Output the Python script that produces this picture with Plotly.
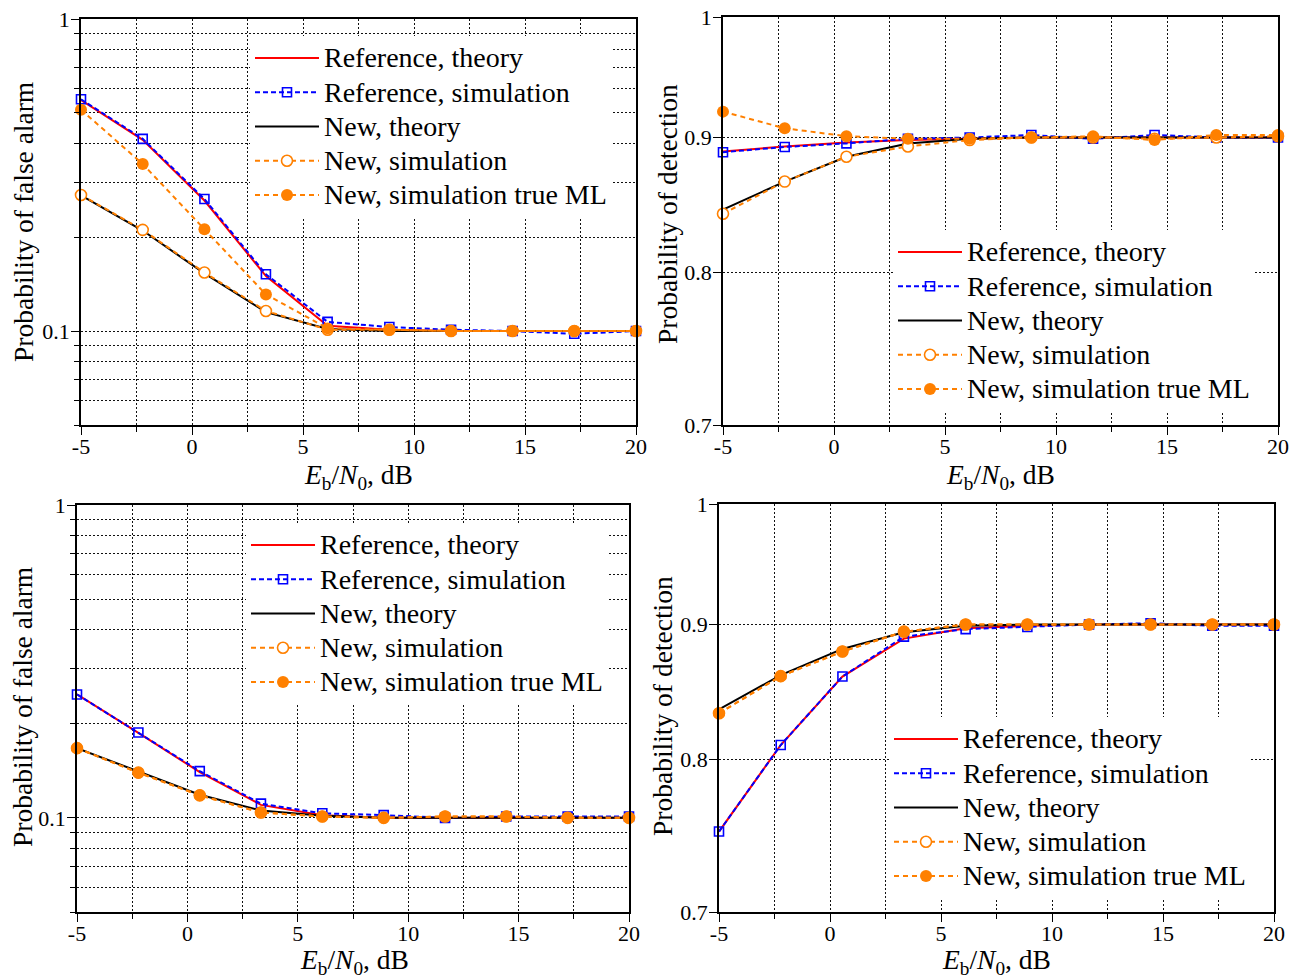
import plotly.graph_objects as go
import math

# ---------------- data ----------------
ebn0 = [-5, -2.22, 0.56, 3.33, 6.11, 8.89, 11.67, 14.44, 17.22, 20]

legend_names = ["Reference, theory", "Reference, simulation", "New, theory",
                "New, simulation", "New, simulation true ML"]

# top-left: probability of false alarm
pfa1_ref_theory = [0.55, 0.41, 0.262, 0.150, 0.104, 0.101, 0.100, 0.100, 0.100, 0.100]
pfa1_ref_sim    = [0.553, 0.413, 0.265, 0.152, 0.107, 0.103, 0.101, 0.100, 0.098, 0.100]
pfa1_new_theory = [0.272, 0.210, 0.153, 0.115, 0.1015, 0.100, 0.100, 0.100, 0.100, 0.100]
pfa1_new_sim    = [0.273, 0.211, 0.154, 0.116, 0.101, 0.101, 0.100, 0.100, 0.100, 0.100]
pfa1_new_ml     = [0.512, 0.343, 0.212, 0.131, 0.102, 0.101, 0.100, 0.100, 0.100, 0.100]

# top-right: probability of detection
pd1_ref_theory = [0.889, 0.893, 0.896, 0.898, 0.899, 0.900, 0.900, 0.900, 0.900, 0.900]
pd1_ref_sim    = [0.8885, 0.8926, 0.8954, 0.899, 0.900, 0.902, 0.899, 0.902, 0.900, 0.900]
pd1_new_theory = [0.845, 0.866, 0.885, 0.8953, 0.899, 0.900, 0.900, 0.900, 0.900, 0.900]
pd1_new_sim    = [0.842, 0.866, 0.885, 0.893, 0.898, 0.900, 0.900, 0.899, 0.900, 0.901]
pd1_new_ml     = [0.9206, 0.9073, 0.901, 0.899, 0.899, 0.900, 0.901, 0.898, 0.902, 0.902]

# bottom-left: probability of false alarm
pfa2_ref_theory = [0.248, 0.187, 0.140, 0.110, 0.102, 0.100, 0.100, 0.100, 0.100, 0.100]
pfa2_ref_sim    = [0.248, 0.1873, 0.141, 0.111, 0.1034, 0.102, 0.100, 0.101, 0.101, 0.101]
pfa2_new_theory = [0.167, 0.1406, 0.1185, 0.1055, 0.1015, 0.100, 0.100, 0.100, 0.100, 0.100]
pfa2_new_sim    = [0.167, 0.1395, 0.118, 0.104, 0.101, 0.100, 0.101, 0.101, 0.100, 0.100]
pfa2_new_ml     = [0.167, 0.1393, 0.118, 0.104, 0.101, 0.100, 0.101, 0.101, 0.100, 0.100]

# bottom-right: probability of detection
pd2_ref_theory = [0.751, 0.810, 0.860, 0.889, 0.897, 0.899, 0.900, 0.900, 0.900, 0.900]
pd2_ref_sim    = [0.751, 0.810, 0.860, 0.8905, 0.8964, 0.898, 0.900, 0.901, 0.899, 0.899]
pd2_new_theory = [0.8357, 0.861, 0.881, 0.894, 0.899, 0.900, 0.900, 0.900, 0.900, 0.900]
pd2_new_sim    = [0.8328, 0.8603, 0.879, 0.8944, 0.900, 0.900, 0.900, 0.900, 0.900, 0.900]
pd2_new_ml     = [0.8328, 0.8603, 0.879, 0.8944, 0.900, 0.900, 0.900, 0.900, 0.900, 0.900]

x_ticks = [-5, 0, 5, 10, 15, 20]
x_ticktext = ["-5", "0", "5", "10", "15", "20"]
x_minor = [-2.5, 2.5, 7.5, 12.5, 17.5]

pfa_ticks = [0.1, 1]
pfa_ticktext = ["0.1", "1"]
pfa_minor = [0.05, 0.06, 0.07, 0.08, 0.09, 0.2, 0.3, 0.4, 0.5, 0.6, 0.7, 0.8, 0.9]

pd_ticks = [0.7, 0.8, 0.9, 1]
pd_ticktext = ["0.7", "0.8", "0.9", "1"]

x_title = "<i>E</i><sub>b</sub>/<i>N</i><sub>0</sub>, dB"
pfa_title = "Probability of false alarm"
pd_title = "Probability of detection"

# ---------------- styling ----------------
FONT = "Liberation Serif"
RED = "#ff0000"
BLUE = "#0000ff"
BLACK = "#000000"
ORANGE = "#ff8000"
GRID = "#111111"
GRIDDASH = "2px,2px"
LEG_TEXT_SIZE = 28
TITLE_SIZE = 27.5

# the page body has an 8px margin; work in screen pixels and convert
OFF = 8
W, H = 1290, 970

def px(xs):
    return (xs - OFF) / W

def py(ys):
    return 1 - (ys - OFF) / H

fig = go.Figure()

panels = [
    ("x", "y", "legend", [pfa1_ref_theory, pfa1_ref_sim, pfa1_new_theory, pfa1_new_sim, pfa1_new_ml]),
    ("x2", "y2", "legend2", [pd1_ref_theory, pd1_ref_sim, pd1_new_theory, pd1_new_sim, pd1_new_ml]),
    ("x3", "y3", "legend3", [pfa2_ref_theory, pfa2_ref_sim, pfa2_new_theory, pfa2_new_sim, pfa2_new_ml]),
    ("x4", "y4", "legend4", [pd2_ref_theory, pd2_ref_sim, pd2_new_theory, pd2_new_sim, pd2_new_ml]),
]

styles = [
    dict(mode="lines", line=dict(color=RED, width=2)),
    dict(mode="lines+markers", line=dict(color=BLUE, width=2, dash="5px,3px"),
         marker=dict(symbol="square-open", size=9, color=BLUE, line=dict(width=1.6, color=BLUE))),
    dict(mode="lines", line=dict(color=BLACK, width=2)),
    dict(mode="lines+markers", line=dict(color=ORANGE, width=2, dash="5px,4px"),
         marker=dict(symbol="circle", size=11, color="white", line=dict(width=1.6, color=ORANGE))),
    dict(mode="lines+markers", line=dict(color=ORANGE, width=2, dash="5px,4px"),
         marker=dict(symbol="circle", size=12, color=ORANGE, line=dict(width=0, color=ORANGE))),
]

for xa, ya, lg, series in panels:
    for name, vals, st in zip(legend_names, series, styles):
        label = f"<span style='font-size:{LEG_TEXT_SIZE}px'>{name}</span>"
        fig.add_trace(go.Scatter(x=ebn0, y=vals, name=label, xaxis=xa, yaxis=ya,
                                 legend=lg, cliponaxis=False, **st))


def xaxis_cfg(left, right, anchor):
    return dict(
        domain=[px(left), px(right)], anchor=anchor, range=[-5, 20], automargin=False,
        tickmode="array", tickvals=x_ticks, ticktext=x_ticktext,
        ticks="outside", ticklen=8, tickwidth=1.3, tickcolor=BLACK,
        ticklabelstandoff=-7, ticklabeloverflow="allow",
        showline=True, linecolor=BLACK, linewidth=1.5, mirror=True,
        showgrid=True, gridcolor=GRID, gridwidth=1, griddash=GRIDDASH,
        zeroline=False,
        minor=dict(tickmode="array", tickvals=x_minor, ticks="outside", ticklen=5,
                   tickcolor=BLACK, showgrid=True, gridcolor=GRID, griddash=GRIDDASH, gridwidth=1),
        tickfont=dict(family=FONT, size=22, color=BLACK),
    )


def yaxis_cfg(top, bottom, anchor, kind):
    cfg = dict(
        domain=[py(bottom), py(top)], anchor=anchor, type="log", automargin=False,
        ticks="outside", ticklen=8, tickwidth=1.3, tickcolor=BLACK,
        ticklabelstandoff=-3, ticklabeloverflow="allow",
        showline=True, linecolor=BLACK, linewidth=1.5, mirror=True,
        showgrid=True, gridcolor=GRID, gridwidth=1, griddash=GRIDDASH,
        zeroline=False,
        tickfont=dict(family=FONT, size=22, color=BLACK),
        tickmode="array",
    )
    if kind == "pfa":
        cfg.update(range=[math.log10(0.05), 0], tickvals=pfa_ticks, ticktext=pfa_ticktext,
                   minor=dict(tickmode="array", tickvals=pfa_minor, ticks="outside", ticklen=5,
                              tickcolor=BLACK, showgrid=True, gridcolor=GRID,
                              griddash=GRIDDASH, gridwidth=1))
    else:
        cfg.update(range=[math.log10(0.7), 0], tickvals=pd_ticks, ticktext=pd_ticktext)
    return cfg


def legend_cfg(left_screen, top_screen):
    return dict(
        x=px(left_screen), y=py(top_screen), xanchor="left", yanchor="top",
        bgcolor="white", borderwidth=0,
        font=dict(family=FONT, size=24, color=BLACK),
        itemwidth=64, tracegroupgap=0,
    )


annotations = []
# x-axis titles (screen centre positions)
for cx, cy in [(358, 476), (1000, 476), (354, 961), (996, 961)]:
    annotations.append(dict(text=x_title, x=px(cx), y=py(cy), xref="paper", yref="paper",
                            xanchor="center", yanchor="middle", showarrow=False,
                            font=dict(family=FONT, size=TITLE_SIZE, color=BLACK)))
# y-axis titles
for txt, cx, cy in [(pfa_title, 23, 222), (pd_title, 667, 214),
                    (pfa_title, 22, 707), (pd_title, 662, 706)]:
    annotations.append(dict(text=txt, x=px(cx), y=py(cy), xref="paper", yref="paper",
                            xanchor="center", yanchor="middle", textangle=-90, showarrow=False,
                            font=dict(family=FONT, size=TITLE_SIZE, color=BLACK)))

fig.update_layout(
    width=W, height=H,
    margin=dict(l=0, r=0, t=0, b=0, autoexpand=False),
    paper_bgcolor="white", plot_bgcolor="white",
    font=dict(family=FONT, size=22, color=BLACK),
    xaxis=xaxis_cfg(81, 636, "y"),
    yaxis=yaxis_cfg(19, 425, "x", "pfa"),
    xaxis2=xaxis_cfg(723, 1278, "y2"),
    yaxis2=yaxis_cfg(17, 425, "x2", "pd"),
    xaxis3=xaxis_cfg(77, 629, "y3"),
    yaxis3=yaxis_cfg(505, 912, "x3", "pfa"),
    xaxis4=xaxis_cfg(719, 1274, "y4"),
    yaxis4=yaxis_cfg(504, 912, "x4", "pd"),
    legend=legend_cfg(250, 36),
    legend2=legend_cfg(893, 230),
    legend3=legend_cfg(246, 523),
    legend4=legend_cfg(889, 717),
    annotations=annotations,
)

fig.write_html("out.html")
